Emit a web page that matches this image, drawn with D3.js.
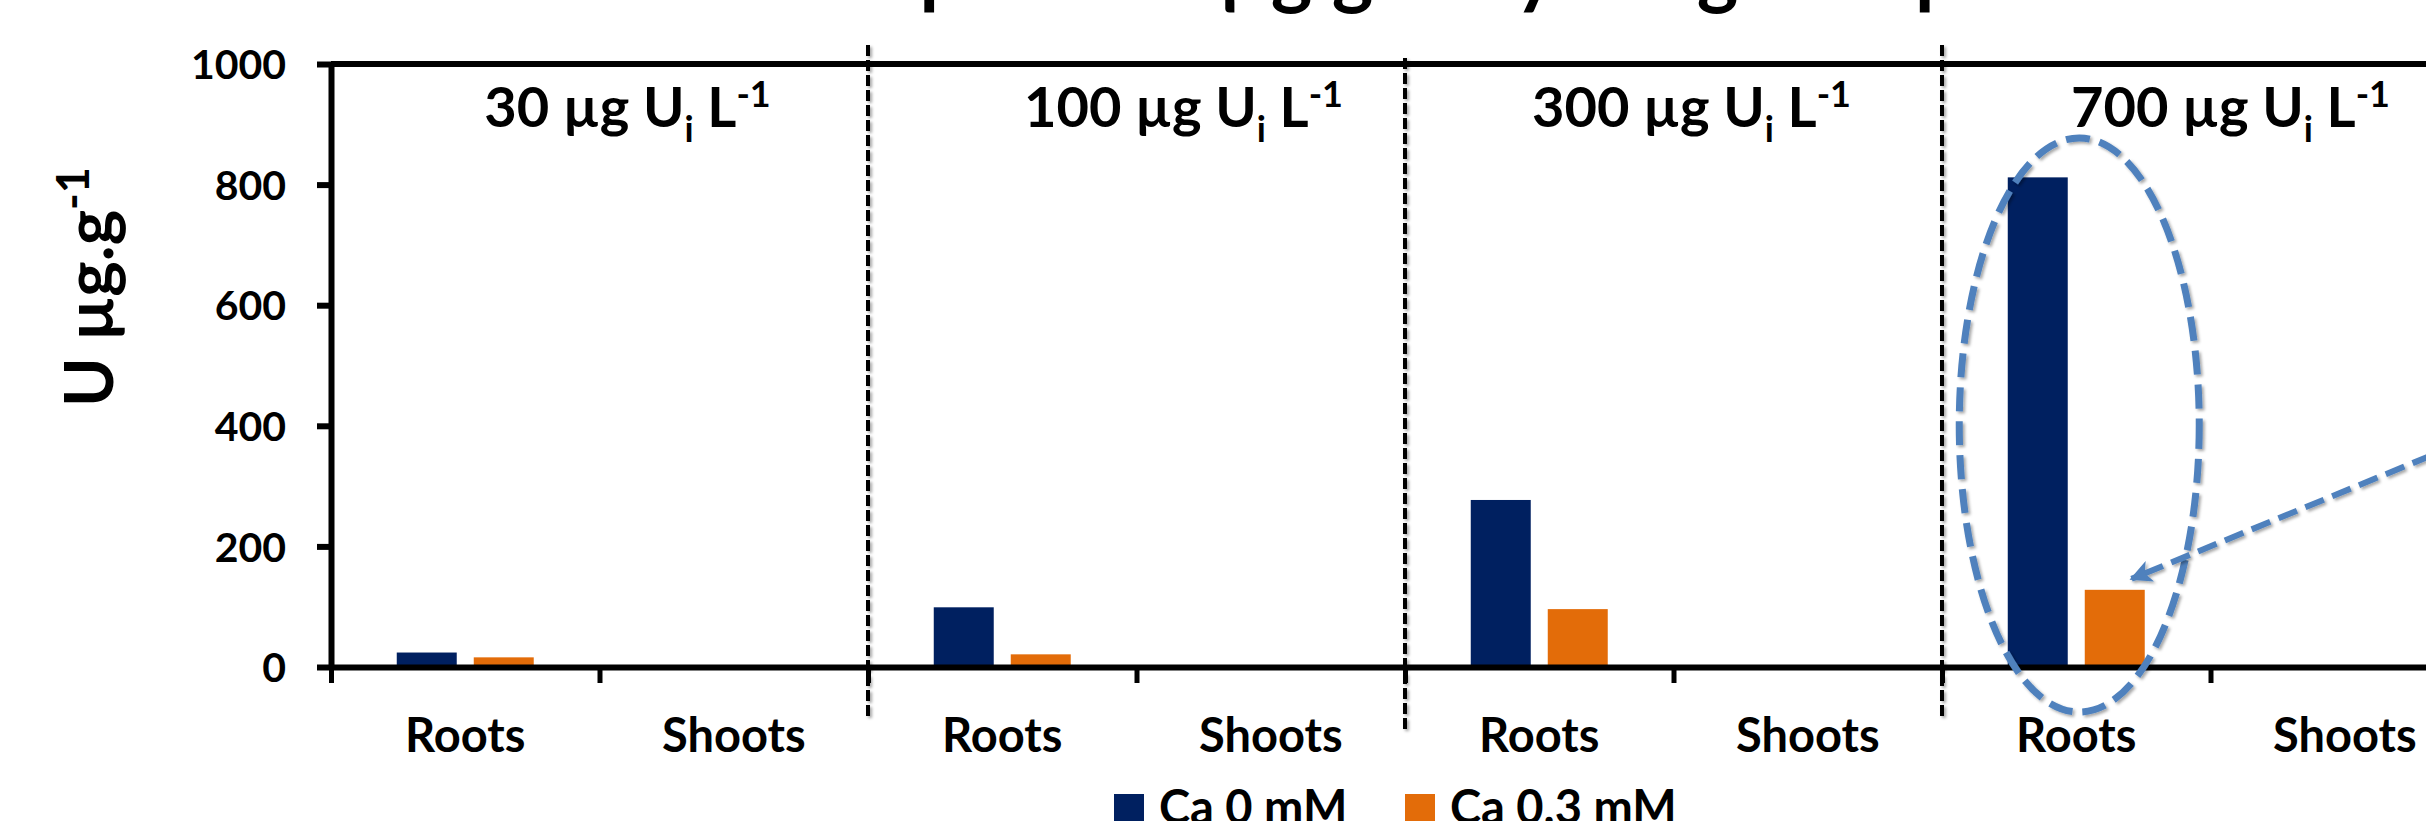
<!DOCTYPE html>
<html>
<head>
<meta charset="utf-8">
<script src="https://cdn.jsdelivr.net/npm/d3@7"></script>
<style>
  html, body { margin: 0; padding: 0; background: #ffffff; overflow: hidden; }
  svg { display: block; }
</style>
</head>
<body>
<svg id="chart" width="2426" height="821"></svg>
<script>
// Uranium content of roots and shoots (µg g-1) for four uranium exposure levels,
// without calcium and with 0.3 mM calcium.
const concentrations = ["30", "100", "300", "700"];
const organs = ["Roots", "Shoots"];
const seriesNames = ["Ca 0 mM", "Ca 0.3 mM"];
const ca0Roots = [24, 99, 277, 812];
const ca0Shoots = [0, 0, 0, 0];
const ca03Roots = [16, 21, 96, 128];
const ca03Shoots = [0, 0, 0, 0];
const yTickValues = [0, 200, 400, 600, 800, 1000];
const seriesColors = ["#002060", "#E36C09"];

const FONT = "Lato, 'Open Sans', sans-serif";
const svg = d3.select("#chart");

// One row per concentration x organ
const rows = [];
concentrations.forEach((c, i) => {
  organs.forEach(o => {
    const v0 = o === "Roots" ? ca0Roots[i] : ca0Shoots[i];
    const v1 = o === "Roots" ? ca03Roots[i] : ca03Shoots[i];
    rows.push({ key: c + "|" + o, conc: c, organ: o, values: [v0, v1] });
  });
});

const left = 331, step = 268.5;
const right = left + rows.length * step;
const baseY = 667, topY = 64;

const x0 = d3.scaleBand().domain(rows.map(r => r.key)).range([left, right]).paddingInner(0).paddingOuter(0);
const x1 = d3.scaleBand().domain(seriesNames).range([0, x0.bandwidth()]).paddingInner(0.221).paddingOuter(0.854);
const xb = d3.scaleLinear().domain([0, rows.length]).range([left, right]);
const y = d3.scaleLinear().domain([0, 1000]).range([baseY, topY]);
const color = d3.scaleOrdinal().domain(seriesNames).range(seriesColors);

// soft shadow used by the drawn shapes
const defs = svg.append("defs");
const sh = defs.append("filter").attr("id", "shadow").attr("x", "-20%").attr("y", "-20%").attr("width", "140%").attr("height", "140%");
sh.append("feDropShadow").attr("dx", 2).attr("dy", 2).attr("stdDeviation", 1.6)
  .attr("flood-color", "#000").attr("flood-opacity", 0.35);
defs.append("marker").attr("id", "arrowHead")
  .attr("markerUnits", "userSpaceOnUse")
  .attr("viewBox", "0 0 10 10").attr("refX", 9).attr("refY", 5)
  .attr("markerWidth", 24).attr("markerHeight", 22).attr("orient", "auto")
  .append("path").attr("d", "M0,0 L10,5 L0,10 L2.5,5 Z").attr("fill", "#4F81BD");

// Title (runs above the top edge)
const title = svg.append("text")
  .attr("x", 554).attr("y", -1)
  .attr("font-family", FONT).attr("font-weight", 700).attr("font-size", 79).attr("fill", "#000");
title.append("tspan").text("Uranium uptake in µg g");
title.append("tspan").attr("font-size", 50).attr("dy", -30).text("-1");
title.append("tspan").attr("dy", 30).text(" dry weight in plants");

// Bars
const groups = svg.append("g").selectAll("g").data(rows).join("g")
  .attr("transform", d => `translate(${x0(d.key)},0)`);
groups.selectAll("rect")
  .data(d => d.values.map((v, k) => ({ name: seriesNames[k], value: v, key: d.key })))
  .join("rect")
  .attr("x", d => x1(d.name))
  .attr("width", x1.bandwidth())
  .attr("y", d => y(d.value))
  .attr("height", d => y(0) - y(d.value))
  .attr("fill", d => color(d.name));

// Top frame line
svg.append("line")
  .attr("x1", left).attr("x2", right).attr("y1", y(1000)).attr("y2", y(1000))
  .attr("stroke", "#000").attr("stroke-width", 6);

// Y axis
const gy = svg.append("g").attr("transform", `translate(${left},0)`)
  .call(d3.axisLeft(y).tickValues(yTickValues).tickFormat(d3.format("d"))
    .tickSize(14).tickSizeOuter(0).tickPadding(31));
gy.select(".domain").attr("stroke", "#000").attr("stroke-width", 6);
gy.selectAll(".tick line").attr("stroke", "#000").attr("stroke-width", 6);
gy.selectAll(".tick text")
  .attr("font-family", FONT).attr("font-weight", 700).attr("font-size", 41).attr("fill", "#000")
  .attr("dy", "0.36em");

// X axis: ticks at category boundaries
const gx = svg.append("g").attr("transform", `translate(0,${baseY})`)
  .call(d3.axisBottom(xb).tickValues(d3.range(rows.length + 1)).tickSize(16).tickSizeOuter(0).tickFormat(""));
gx.select(".domain").attr("stroke", "#000").attr("stroke-width", 6);
gx.selectAll(".tick line").attr("stroke", "#000").attr("stroke-width", 5);

// Category names under each band
const gl = svg.append("g").attr("transform", `translate(0,${baseY})`)
  .call(d3.axisBottom(x0).tickSize(0).tickPadding(52).tickFormat(k => k.split("|")[1]));
gl.select(".domain").remove();
gl.selectAll(".tick text")
  .attr("font-family", FONT).attr("font-weight", 700).attr("font-size", 47).attr("fill", "#000");

// Dashed separators between concentration groups
const separators = [2, 4, 6];
const sepTop = [45, 58, 45], sepBottom = [717, 730, 717];
svg.append("g").attr("filter", "url(#shadow)").selectAll("line").data(separators).join("line")
  .attr("x1", d => xb(d)).attr("x2", d => xb(d))
  .attr("y1", (d, i) => sepTop[i]).attr("y2", (d, i) => sepBottom[i])
  .attr("stroke", "#000").attr("stroke-width", 4).attr("stroke-dasharray", "11 4");

// Concentration headings
const headingShift = [28, 47, 18, 20];
concentrations.forEach((c, i) => {
  const t = svg.append("text")
    .attr("x", xb(2 * i + 1) + headingShift[i]).attr("y", 127)
    .attr("text-anchor", "middle")
    .attr("font-family", FONT).attr("font-weight", 700).attr("font-size", 56).attr("fill", "#000");
  t.append("tspan").text(c + " µg U");
  t.append("tspan").attr("font-size", 36).attr("dy", 15).text("i");
  t.append("tspan").attr("dy", -15).text(" L");
  t.append("tspan").attr("font-size", 36).attr("dy", -20).text("-1");
});

// Y axis title
const yt = svg.append("text")
  .attr("transform", "translate(113,287) rotate(-90)")
  .attr("text-anchor", "middle")
  .attr("font-family", FONT).attr("font-weight", 700).attr("font-size", 67).attr("fill", "#000");
yt.append("tspan").text("U µg.g");
yt.append("tspan").attr("font-size", 45).attr("dy", -24).text("-1");

// Highlight around the 700 µg roots pair, with an arrow to the calcium bar
const hiRow = rows.find(r => r.conc === "700" && r.organ === "Roots");
const pairCx = x0(hiRow.key) + x1(seriesNames[0]) + (x1(seriesNames[1]) + x1.bandwidth() - x1(seriesNames[0])) / 2;
svg.append("ellipse")
  .attr("cx", pairCx + 3).attr("cy", 425).attr("rx", 120).attr("ry", 287)
  .attr("fill", "none").attr("stroke", "#4F81BD").attr("stroke-width", 7)
  .attr("stroke-dasharray", "24 10").attr("filter", "url(#shadow)");

const tipX = x0(hiRow.key) + x1(seriesNames[1]) + x1.bandwidth() * 0.78;
const tipY = y(hiRow.values[1]) - 11;
svg.append("line")
  .attr("x1", tipX + 380).attr("y1", tipY - 380 * 0.4116)
  .attr("x2", tipX).attr("y2", tipY)
  .attr("stroke", "#4F81BD").attr("stroke-width", 6).attr("stroke-dasharray", "20 9")
  .attr("marker-end", "url(#arrowHead)").attr("filter", "url(#shadow)");

// Legend
const legend = svg.append("g");
const legendX = [1114, 1405];
seriesNames.forEach((s, i) => {
  legend.append("rect").attr("x", legendX[i]).attr("y", 794).attr("width", 30).attr("height", 30).attr("fill", color(s));
  legend.append("text").attr("x", legendX[i] + 45).attr("y", 824)
    .attr("font-family", FONT).attr("font-weight", 700).attr("font-size", 47).attr("fill", "#000")
    .text(s);
});
</script>
</body>
</html>
